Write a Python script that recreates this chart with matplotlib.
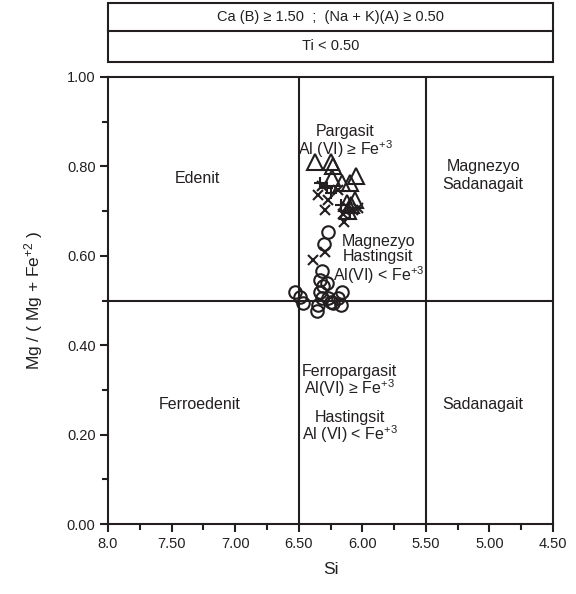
import matplotlib
matplotlib.use("Agg")
import matplotlib.pyplot as plt
from matplotlib.patches import Rectangle

plt.rcParams['font.family'] = ['Liberation Sans', 'DejaVu Sans']
plt.rcParams['mathtext.default'] = 'regular'

# Data (Si, Mg/(Mg+Fe2))
tri_si = [6.37, 6.25, 6.23, 6.24, 6.16, 6.10, 6.05, 6.12, 6.09, 6.11, 6.06]
tri_mg = [0.81, 0.81, 0.80, 0.775, 0.763, 0.763, 0.778, 0.718, 0.714, 0.70, 0.725]

x_si = [6.32, 6.35, 6.29, 6.03, 6.14, 6.15, 6.29, 6.39, 6.19, 6.07, 6.27, 6.12]
x_mg = [0.756, 0.736, 0.702, 0.707, 0.676, 0.694, 0.609, 0.591, 0.747, 0.702, 0.725, 0.71]

p_si = [6.33, 6.25, 6.17, 6.10, 6.28]
p_mg = [0.763, 0.74, 0.714, 0.696, 0.752]

c_si = [6.27, 6.30, 6.32, 6.33, 6.28, 6.31, 6.53, 6.49, 6.47, 6.33, 6.32, 6.27,
        6.25, 6.35, 6.36, 6.23, 6.19, 6.16, 6.17]
c_mg = [0.653, 0.626, 0.566, 0.546, 0.539, 0.532, 0.519, 0.508, 0.494, 0.519, 0.506,
        0.506, 0.497, 0.490, 0.477, 0.494, 0.506, 0.519, 0.490]

x_ticks = [8.0, 7.5, 7.0, 6.5, 6.0, 5.5, 5.0, 4.5]
x_ticklabels = ["8.0", "7.50", "7.00", "6.50", "6.00", "5.50", "5.00", "4.50"]
y_ticks = [0.0, 0.2, 0.4, 0.6, 0.8, 1.0]
y_ticklabels = ["0.00", "0.20", "0.40", "0.60", "0.80", "1.00"]

W, H = 576, 594
fig = plt.figure(figsize=(W/100, H/100), dpi=100)
ax = fig.add_axes([108/W, 1-524/H, (553-108)/W, (524-77)/H])
ax.set_xlim(8.0, 4.5)
ax.set_ylim(0, 1)

lw = 1.5
tc = '#231f20'
for s in ax.spines.values():
    s.set_linewidth(lw)
    s.set_color(tc)

ax.set_xticks(x_ticks)
ax.set_xticklabels(x_ticklabels)
ax.set_xticks([7.75, 7.25, 6.75, 6.25, 5.75, 5.25, 4.75], minor=True)
ax.set_yticks(y_ticks)
ax.set_yticklabels(y_ticklabels)
ax.set_yticks([0.1, 0.3, 0.5, 0.7, 0.9], minor=True)
ax.tick_params(which='major', direction='out', length=6, width=1.5, labelsize=10.5, colors=tc, pad=3)
ax.tick_params(which='minor', direction='out', length=4, width=1.5, colors=tc)

# Field boundaries
ax.plot([6.5, 6.5], [0, 1], color=tc, lw=lw)
ax.plot([5.5, 5.5], [0, 1], color=tc, lw=lw)
ax.plot([8.0, 4.5], [0.5, 0.5], color=tc, lw=lw)

# Data points
ax.plot(c_si, c_mg, 'o', mfc='none', mec=tc, ms=9, mew=1.5)
ax.plot(x_si, x_mg, 'x', color=tc, ms=7, mew=1.5)
ax.plot(p_si, p_mg, '+', color=tc, ms=8, mew=1.5)
ax.plot(tri_si, tri_mg, '^', mfc='none', mec=tc, ms=11, mew=1.5)

fs = 11.5
def lab(x, y, s):
    ax.text(x, y, s, ha='center', va='center', fontsize=fs, color=tc)

lab(6.135, 0.878, "Pargasit")
lab(6.135, 0.839, "Al (VI) ≥ Fe$^{+3}$")
lab(7.30, 0.774, "Edenit")
lab(5.05, 0.799, "Magnezyo")
lab(5.05, 0.760, "Sadanagait")
lab(5.875, 0.633, "Magnezyo")
lab(5.875, 0.598, "Hastingsit")
lab(5.875, 0.556, "Al(VI) < Fe$^{+3}$")
lab(6.10, 0.342, "Ferropargasit")
lab(6.10, 0.304, "Al(VI) ≥ Fe$^{+3}$")
lab(7.28, 0.268, "Ferroedenit")
lab(6.10, 0.239, "Hastingsit")
lab(6.10, 0.201, "Al (VI) < Fe$^{+3}$")
lab(5.05, 0.268, "Sadanagait")

ax.set_xlabel("Si", fontsize=12.5, color=tc, labelpad=8)
ax.set_ylabel("Mg / ( Mg + Fe$^{+2}$ )", fontsize=12.5, color=tc, labelpad=16)

# Header boxes
hx0, hx1 = 108/W, 553/W
ytop, ymid, ybot = 1-3/H, 1-31/H, 1-62/H
fig.patches.append(Rectangle((hx0, ybot), hx1-hx0, ytop-ybot, transform=fig.transFigure,
                             fill=False, lw=1.5, ec=tc))
fig.add_artist(plt.Line2D([hx0, hx1], [ymid, ymid], transform=fig.transFigure, lw=1.5, color=tc))
fig.text((hx0+hx1)/2, (ytop+ymid)/2, "Ca (B) ≥ 1.50  ;  (Na + K)(A) ≥ 0.50",
         ha='center', va='center', fontsize=10.5, color=tc)
fig.text((hx0+hx1)/2, (ymid+ybot)/2, "Ti < 0.50", ha='center', va='center', fontsize=10.5, color=tc)

fig.savefig("out.png", dpi=100)
